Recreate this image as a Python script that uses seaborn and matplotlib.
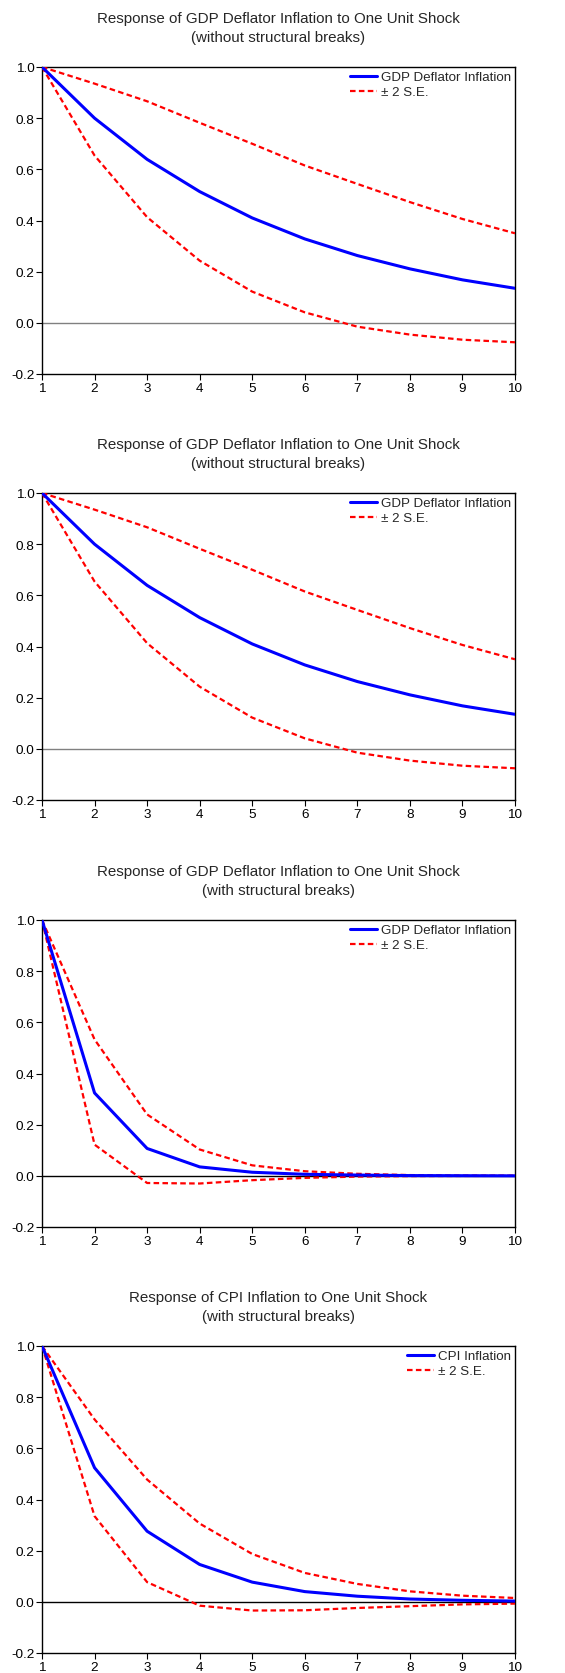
import matplotlib
matplotlib.use('Agg')
import matplotlib.pyplot as plt
import seaborn as sns

sns.set_style('ticks')
plt.rcParams['font.family'] = ['Liberation Sans', 'DejaVu Sans']

# Impulse response horizons
horizon = [1, 2, 3, 4, 5, 6, 7, 8, 9, 10]

# GDP deflator inflation, without structural breaks (used for panels 1 and 2)
gdp_nobreak = [1.0, 0.80, 0.639, 0.513, 0.41, 0.328, 0.263, 0.211, 0.168, 0.135]
gdp_nobreak_up = [1.0, 0.935, 0.866, 0.782, 0.70, 0.615, 0.543, 0.472, 0.406, 0.35]
gdp_nobreak_lo = [1.0, 0.654, 0.413, 0.243, 0.122, 0.041, -0.015, -0.046, -0.066, -0.076]

# GDP deflator inflation, with structural breaks
gdp_break = [1.0, 0.324, 0.107, 0.035, 0.014, 0.006, 0.003, 0.001, 0.0005, 0.0]
gdp_break_up = [1.0, 0.533, 0.240, 0.103, 0.041, 0.018, 0.008, 0.003, 0.001, 0.0005]
gdp_break_lo = [1.0, 0.122, -0.028, -0.030, -0.017, -0.008, -0.003, -0.001, -0.0005, 0.0]

# CPI inflation, with structural breaks
cpi_break = [1.0, 0.524, 0.276, 0.146, 0.077, 0.040, 0.022, 0.011, 0.006, 0.003]
cpi_break_up = [1.0, 0.713, 0.478, 0.306, 0.187, 0.113, 0.070, 0.041, 0.024, 0.015]
cpi_break_lo = [1.0, 0.335, 0.077, -0.015, -0.034, -0.033, -0.024, -0.017, -0.010, -0.007]

yticks = [-0.2, 0.0, 0.2, 0.4, 0.6, 0.8, 1.0]

panels = [
    ('Response of GDP Deflator Inflation to One Unit Shock\n(without structural breaks)',
     'GDP Deflator Inflation', gdp_nobreak, gdp_nobreak_up, gdp_nobreak_lo, '#808080'),
    ('Response of GDP Deflator Inflation to One Unit Shock\n(without structural breaks)',
     'GDP Deflator Inflation', gdp_nobreak, gdp_nobreak_up, gdp_nobreak_lo, '#808080'),
    ('Response of GDP Deflator Inflation to One Unit Shock\n(with structural breaks)',
     'GDP Deflator Inflation', gdp_break, gdp_break_up, gdp_break_lo, 'black'),
    ('Response of CPI Inflation to One Unit Shock\n(with structural breaks)',
     'CPI Inflation', cpi_break, cpi_break_up, cpi_break_lo, 'black'),
]

W, H = 565, 1674
fig = plt.figure(figsize=(W / 100, H / 100), dpi=100)

tops = [68, 494, 921, 1347]
ax_h = 307
left, right = 42, 515

for top, (title, name, mid, up, lo, zcol) in zip(tops, panels):
    ax = fig.add_axes([left / W, (H - top - ax_h) / H, (right - left) / W, ax_h / H])
    ax.axhline(0, color=zcol, lw=1.0, zorder=1)
    sns.lineplot(x=horizon, y=up, ax=ax, color='red', lw=1.6,
                 linestyle=(0, (2.5, 1.5)), label='\u00b1 2 S.E.', zorder=3)
    sns.lineplot(x=horizon, y=lo, ax=ax, color='red', lw=1.6,
                 linestyle=(0, (2.5, 1.5)), zorder=3)
    sns.lineplot(x=horizon, y=mid, ax=ax, color='blue', lw=2.2, label=name, zorder=4)

    ax.set_xlim(1, 10)
    ax.set_ylim(-0.2, 1.0)
    ax.set_xticks(horizon)
    ax.set_yticks(yticks)
    ax.set_yticklabels(['%.1f' % v for v in yticks])
    ax.tick_params(direction='out', length=4, width=0.8, labelsize=9.7, pad=1.5,
                   colors='black')
    for s in ax.spines.values():
        s.set_color('black')
        s.set_linewidth(1.0)
    ax.set_title(title, fontsize=10.9, pad=19, linespacing=1.45)

    handles, labels = ax.get_legend_handles_labels()
    order = [labels.index(name), labels.index('\u00b1 2 S.E.')]
    ax.legend([handles[i] for i in order], [labels[i] for i in order],
              loc='upper right', frameon=False, fontsize=9.6, handlelength=2.0,
              handletextpad=0.3, borderaxespad=0.1, labelspacing=0.2,
              borderpad=0.2)

fig.savefig('out.png', dpi=100)
